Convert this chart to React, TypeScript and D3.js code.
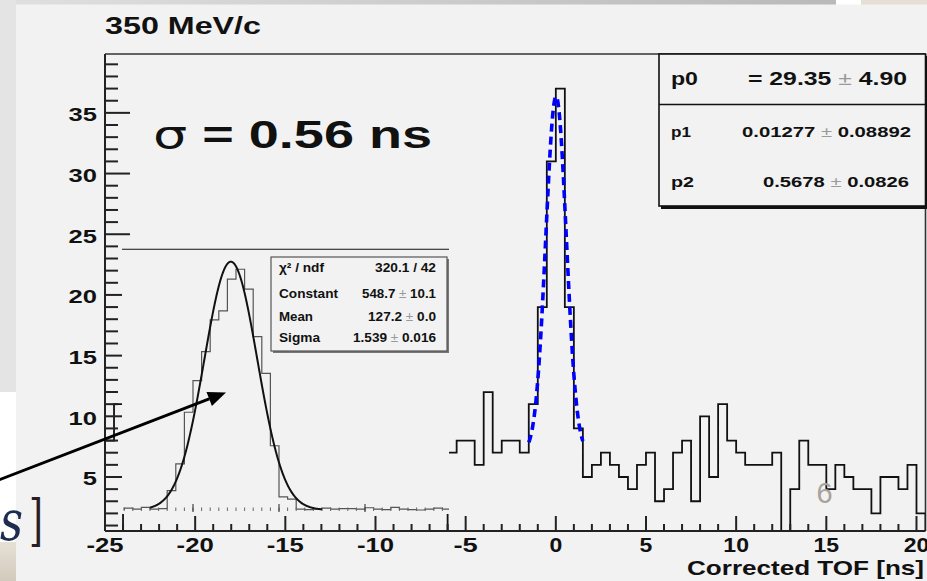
import React from "react";
import * as d3 from "d3";

const W = 927;
const H = 581;

// ---------- main histogram (Corrected TOF, 0.5 ns bins) ----------
const binWidth = 0.5;
const mainBinStart = -6;
const mainCounts = [
  7, 8, 8, 6, 12, 7, 8, 8, 7, 11, 19, 31, 37, 19, 9, 5, 6, 7, 6, 5, 4, 6, 7, 3, 4, 7,
  8, 3, 10, 5, 11, 8, 7, 6, 6, 6, 7, 0, 4, 8, 6, 6, 4, 6, 5, 4, 4, 2, 5, 5, 4, 6, 2,
];
const leftBinStart = -25;
const leftCounts = [8, 11];

// fit (gaussian + flat background)
const fitP0 = 29.35;
const fitP1 = 0.01277;
const fitP2 = 0.5678;
const fitBackground = 7;
const fitRange = [-1.5, 1.5];

const xMajorTicks = [-25, -20, -15, -10, -5, 0, 5, 10, 15, 20];
const yMajorTicks = [5, 10, 15, 20, 25, 30, 35];

const titleText = "350 MeV/c";
const xAxisTitle = "Corrected TOF [ns]";
const statNames = ["p0", "p1", "p2"];
const statValues = ["29.35", "0.01277", "0.5678"];
const statErrors = ["4.90", "0.08892", "0.0826"];

// ---------- inset histogram ----------
const insetBinStart = 121;
const insetBinWidth = 0.5;
const insetCounts = [
  4, 2, 6, 2, 3, 43, 102, 216, 286, 350, 420, 440, 510, 532, 488, 383, 302, 142, 29, 24,
  2, 1, 2, 4, 2, 3, 3, 2, 5, 2, 1, 6, 2, 1, 0, 2, 4, 2,
];
const insetConstant = 548.7;
const insetMean = 127.2;
const insetSigma = 1.539;
const insetFitRange = [122.5, 132.5];
const insetStatLabels = ["χ² / ndf", "Constant", "Mean", "Sigma"];
const insetStatValues = ["320.1 / 42", "548.7", "127.2", "1.539"];
const insetStatErrors = ["", "10.1", "0.0", "0.016"];

const FONT = "'Liberation Sans', Arial, Helvetica, sans-serif";

function stepPath(
  start: number,
  width: number,
  counts: number[],
  x: (v: number) => number,
  y: (v: number) => number,
  base: number
) {
  let d = `M${x(start)},${y(base)}`;
  counts.forEach((c, i) => {
    d += `V${y(c)}H${x(start + (i + 1) * width)}`;
  });
  d += `V${y(base)}`;
  return d;
}

export default function App() {
  // main scales
  const x = d3.scaleLinear().domain([-25, 20.5]).range([105, 925.5]);
  const y = d3.scaleLinear().domain([0.55, 39.85]).range([531, 54]).clamp(true);

  // inset scales
  const xi = d3.scaleLinear().domain([125, 130]).range([193, 279]);
  const yi = d3.scaleLinear().domain([0, 548.7]).range([510, 261.7]);

  const minorX = d3.range(-24, 21, 1).filter((v) => v % 5 !== 0);
  const minorY = d3.range(1, 40, 1).filter((v) => v % 5 !== 0);

  const fitLine = d3
    .line<number>()
    .x((v) => x(v))
    .y((v) => y(fitP0 * Math.exp(-0.5 * ((v - fitP1) / fitP2) ** 2) + fitBackground));
  const fitPts = d3.range(fitRange[0], fitRange[1] + 0.0001, 0.02);

  const insetLine = d3
    .line<number>()
    .x((v) => xi(v))
    .y((v) => yi(insetConstant * Math.exp(-0.5 * ((v - insetMean) / insetSigma) ** 2)));
  const insetPts = d3.range(insetFitRange[0], insetFitRange[1] + 0.0001, 0.02);

  const insetMinor = d3.range(121, 140, 0.5);
  const insetMajor = [125, 130, 135];

  const xLabelWidth = (s: string) =>
    s.split("").reduce((a, ch) => a + (ch === "-" ? 11.5 : 12.8), 0);

  // arrow geometry (annotation)
  const tip = [226, 392.5];
  const ang = Math.atan2(392.5 - 479.5, 226 - 0);
  const ux = Math.cos(ang), uy = Math.sin(ang);
  const hl = 18, hw = 7.5;
  const bx = tip[0] - hl * ux, by = tip[1] - hl * uy;
  const head = `M${tip[0]},${tip[1]}L${bx - hw * uy},${by + hw * ux}L${bx + hw * uy},${by - hw * ux}Z`;

  const statBaselines = [85, 137, 187];
  const statSizes = [19, 15.5, 15.5];
  const statNameW = [27, 20, 23];
  const statValEnd = [907, 911, 909];
  const statValW = [159, 169, 146];

  const insetBaselines = [272, 298, 321, 342];
  const insetLabelW = [45, 59, 34, 41];
  const insetValW = [61, 74, 68, 83];

  return (
    <div style={{ position: "fixed", left: 0, top: 0, width: W, height: H }}>
      <svg width={W} height={H} viewBox={`0 0 ${W} ${H}`} style={{ display: "block" }}>
        <defs>
          <linearGradient id="topband" x1="0" x2="1" y1="0" y2="0">
            <stop offset="0" stopColor="#e0e0e0" />
            <stop offset="1" stopColor="#b9b9b9" />
          </linearGradient>
          <linearGradient id="beige" x1="0" x2="0" y1="0" y2="1">
            <stop offset="0" stopColor="#e6e0d6" />
            <stop offset="1" stopColor="#d2cabc" />
          </linearGradient>
          <clipPath id="frameClip">
            <rect x={105} y={54} width={820.5} height={477} />
          </clipPath>
          <clipPath id="insetClip">
            <rect x={122} y={249} width={327} height={265} />
          </clipPath>
        </defs>

        {/* background */}
        <rect x={0} y={0} width={W} height={H} fill="#f2f2f2" />
        <rect x={0} y={0} width={836} height={4.5} fill="url(#topband)" />
        <rect x={836} y={0} width={25} height={4.5} fill="#ffffff" />
        <rect x={861} y={0} width={66} height={4.5} fill="#e6dfd3" />
        <rect x={0} y={0} width={16} height={392} fill="#e4e4e4" />
        <rect x={0} y={392} width={16} height={150} fill="#ffffff" />
        <rect x={0} y={542} width={16} height={39} fill="url(#beige)" />

        {/* title */}
        <text x={105} y={34} fontFamily={FONT} fontWeight="bold" fontSize={24}
          textLength={156} lengthAdjust="spacingAndGlyphs" fill="#111">
          {titleText}
        </text>

        {/* frame */}
        <line x1={105} x2={925.5} y1={54} y2={54} stroke="#333" strokeWidth={1.6} />
        <line x1={925.5} x2={925.5} y1={54} y2={531} stroke="#333" strokeWidth={1.6} />

        {/* main histogram */}
        <g clipPath="url(#frameClip)">
          <path d={stepPath(leftBinStart, binWidth, leftCounts, x, y, 0)}
            fill="none" stroke="#111" strokeWidth={1.8} />
          <path d={stepPath(mainBinStart, binWidth, mainCounts, x, y, 0)}
            fill="none" stroke="#111" strokeWidth={1.8} />
          <path d={fitLine(fitPts) || ""} fill="none" stroke="#0000ff"
            strokeWidth={3.6} strokeDasharray="8 5" />
        </g>

        {/* y axis */}
        <line x1={105} x2={105} y1={54} y2={531} stroke="#222" strokeWidth={2} />
        {yMajorTicks.map((v) => (
          <g key={"ym" + v}>
            <line x1={105} x2={130} y1={y(v)} y2={y(v)} stroke="#222" strokeWidth={2} />
            <text x={97} y={y(v) + 8.5} textAnchor="end" fontFamily={FONT} fontWeight="bold"
              fontSize={19} textLength={String(v).length * 14.2} lengthAdjust="spacingAndGlyphs"
              fill="#111">
              {v}
            </text>
          </g>
        ))}
        {minorY.map((v) => (
          <line key={"yn" + v} x1={105} x2={118} y1={y(v)} y2={y(v)} stroke="#222" strokeWidth={2} />
        ))}

        {/* x axis */}
        <line x1={105} x2={925.5} y1={531} y2={531} stroke="#222" strokeWidth={2} />
        {xMajorTicks.map((v) => (
          <g key={"xm" + v}>
            <line x1={x(v)} x2={x(v)} y1={531} y2={516} stroke="#222" strokeWidth={2} />
            <text x={x(v)} y={552} textAnchor="middle" fontFamily={FONT} fontWeight="bold"
              fontSize={19.5} textLength={xLabelWidth(String(v))} lengthAdjust="spacingAndGlyphs"
              fill="#111">
              {v}
            </text>
          </g>
        ))}
        {minorX.map((v) => (
          <line key={"xn" + v} x1={x(v)} x2={x(v)} y1={531} y2={524} stroke="#222" strokeWidth={2} />
        ))}
        <text x={924} y={575} textAnchor="end" fontFamily={FONT} fontWeight="bold" fontSize={21}
          textLength={237} lengthAdjust="spacingAndGlyphs" fill="#111">
          {xAxisTitle}
        </text>

        {/* sigma annotation */}
        <text x={153} y={148} fontFamily={FONT} fontSize={39} textLength={279}
          lengthAdjust="spacingAndGlyphs" fill="#111">
          <tspan fontFamily="'DejaVu Sans', sans-serif" fontWeight="normal">σ</tspan>
          <tspan fontWeight="bold"> = 0.56 ns</tspan>
        </text>

        {/* main stat box */}
        <rect x={661} y={56} width={266} height={153} fill="#111" />
        <rect x={659} y={54} width={266.5} height={152} fill="#f2f2f2" stroke="#111" strokeWidth={1.6} />
        <line x1={659} x2={925.5} y1={104.5} y2={104.5} stroke="#111" strokeWidth={1.6} />
        {statNames.map((n, i) => (
          <g key={n}>
            <text x={671} y={statBaselines[i]} fontFamily={FONT} fontWeight="bold"
              fontSize={statSizes[i]} textLength={statNameW[i]} lengthAdjust="spacingAndGlyphs"
              fill="#111">
              {n}
            </text>
            <text x={statValEnd[i]} y={statBaselines[i]} textAnchor="end" fontFamily={FONT}
              fontWeight="bold" fontSize={statSizes[i]} textLength={statValW[i]}
              lengthAdjust="spacingAndGlyphs" fill="#111">
              {i === 0 ? "= " : ""}
              {statValues[i]}
              <tspan fill="#9a9a9a" fontWeight="normal"> ± </tspan>
              {statErrors[i]}
            </text>
          </g>
        ))}

        {/* inset */}
        <rect x={122} y={249} width={327} height={265} fill="#f2f2f2" />
        <line x1={122} x2={449} y1={249.3} y2={249.3} stroke="#111" strokeWidth={1.1} />
        <g clipPath="url(#insetClip)">
          <path d={stepPath(insetBinStart, insetBinWidth, insetCounts, xi, yi, 0)}
            fill="none" stroke="#555" strokeWidth={1.2} />
          {insetMinor.map((v) => (
            <line key={"im" + v} x1={xi(v)} x2={xi(v)} y1={511} y2={507.5}
              stroke="#666" strokeWidth={1} />
          ))}
          {insetMajor.map((v) => (
            <line key={"iM" + v} x1={xi(v)} x2={xi(v)} y1={512} y2={504}
              stroke="#444" strokeWidth={1.2} />
          ))}
          <path d={insetLine(insetPts) || ""} fill="none" stroke="#111" strokeWidth={2} />
        </g>
        <rect x={273} y={259} width={176} height={94} fill="#777" />
        <rect x={271} y={257} width={176} height={94} fill="#f2f2f2" stroke="#555" strokeWidth={1.2} />
        {insetStatLabels.map((l, i) => (
          <g key={l}>
            <text x={279} y={insetBaselines[i]} fontFamily={FONT} fontWeight="bold" fontSize={13}
              textLength={insetLabelW[i]} lengthAdjust="spacingAndGlyphs" fill="#111">
              {l}
            </text>
            <text x={436} y={insetBaselines[i]} textAnchor="end" fontFamily={FONT}
              fontWeight="bold" fontSize={13} textLength={insetValW[i]}
              lengthAdjust="spacingAndGlyphs" fill="#111">
              {insetStatValues[i]}
              {insetStatErrors[i] !== "" ? (
                <>
                  <tspan fill="#9a9a9a" fontWeight="normal"> ± </tspan>
                  {insetStatErrors[i]}
                </>
              ) : null}
            </text>
          </g>
        ))}

        {/* arrow annotation */}
        <line x1={-4} y1={479.5 + 4 * Math.tan(-ang)} x2={bx} y2={by} stroke="#000" strokeWidth={3} />
        <path d={head} fill="#000" />

        {/* slide fragments */}
        <text x={0} y={540} fontFamily="'DejaVu Serif', serif" fontStyle="italic" fontSize={56}
          textLength={23} lengthAdjust="spacingAndGlyphs" fill="#1d2d4f">
          s
        </text>
        <text x={29} y={540} fontFamily="'DejaVu Serif', serif" fontSize={56}
          textLength={14} lengthAdjust="spacingAndGlyphs" fill="#2a1d24">
          ]
        </text>
        <text x={824.5} y={503} textAnchor="middle" fontFamily="'Liberation Sans', Arial, sans-serif"
          fontSize={29} fill="#a8a398">
          6
        </text>
      </svg>
    </div>
  );
}
